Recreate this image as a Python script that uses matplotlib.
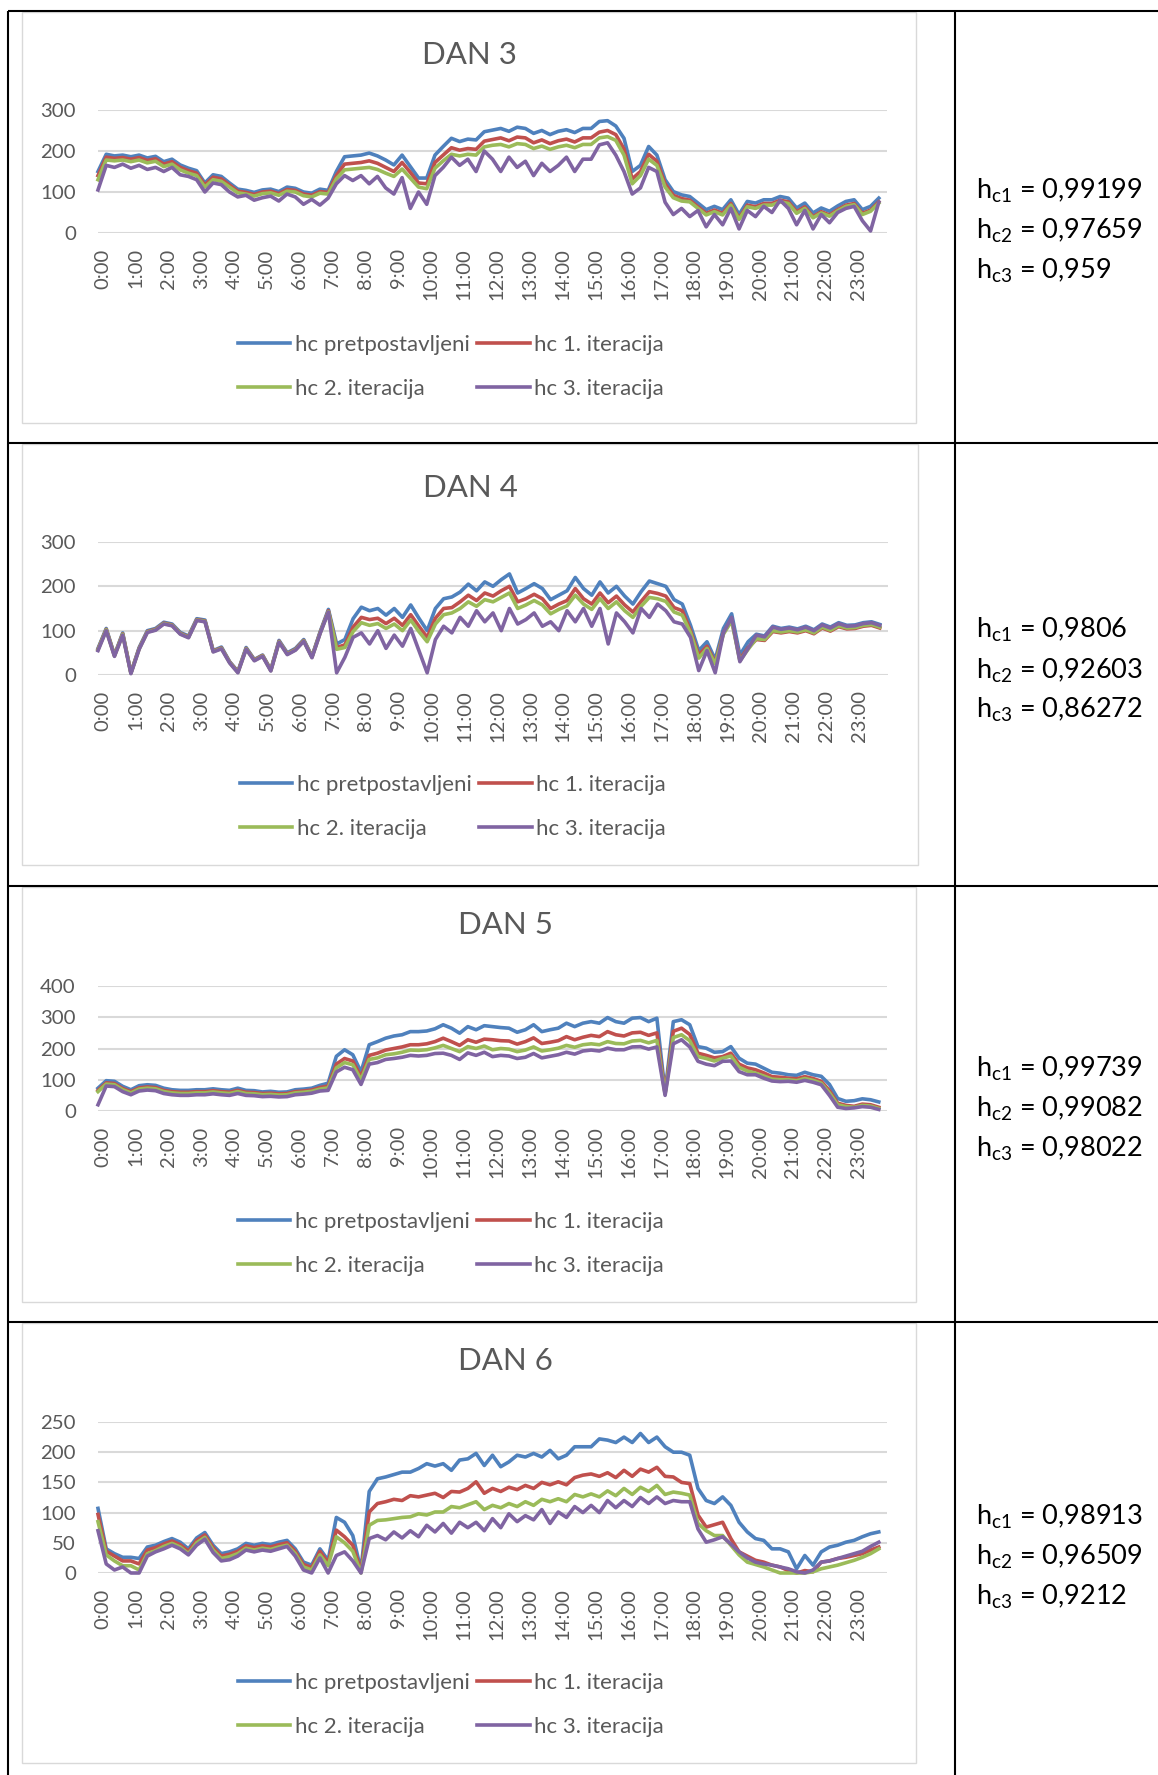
import numpy as np
import matplotlib.pyplot as plt
from matplotlib.lines import Line2D
from matplotlib.patches import Rectangle
from matplotlib.transforms import ScaledTranslation

plt.rcParams['font.family'] = ['Lato', 'DejaVu Sans']
plt.rcParams['mathtext.fontset'] = 'custom'
plt.rcParams['mathtext.rm'] = 'Lato'
plt.rcParams['mathtext.it'] = 'Lato:italic'
plt.rcParams['mathtext.bf'] = 'Lato:bold'

# ---- data: one value every 15 minutes (96 per day) ----
minutes = np.arange(96) * 15
hour_labels = [f'{h}:00' for h in range(24)]
series_names = ['hc pretpostavljeni', 'hc 1. iteracija', 'hc 2. iteracija', 'hc 3. iteracija']

# DAN 3
blue3 = [150, 192, 188, 190, 186, 190, 183, 187, 174, 180, 166, 158, 152, 122, 142, 138,
         122, 107, 104, 99, 105, 107, 101, 112, 109, 100, 97, 107, 104, 150, 186, 188,
         190, 195, 188, 178, 166, 190, 162, 134, 134, 190, 211, 231, 223, 229, 227, 247,
         251, 255, 248, 258, 255, 243, 250, 240, 248, 252, 245, 255, 255, 272, 274, 261,
         231, 150, 165, 211, 190, 130, 101, 93, 89, 73, 57, 65, 57, 81, 45, 77,
         73, 81, 81, 89, 85, 61, 73, 49, 61, 53, 66, 77, 81, 57, 65, 85]
red3 = [140, 185, 182, 184, 180, 184, 177, 181, 168, 174, 160, 152, 146, 117, 136, 132,
        117, 102, 99, 94, 100, 102, 96, 106, 104, 95, 92, 101, 99, 140, 168, 170,
        172, 176, 170, 160, 150, 172, 148, 122, 120, 172, 190, 208, 202, 206, 204, 224,
        228, 232, 225, 234, 232, 220, 227, 218, 225, 229, 222, 232, 232, 246, 250, 240,
        205, 132, 150, 192, 175, 120, 92, 84, 80, 64, 48, 56, 48, 72, 36, 68,
        64, 72, 72, 80, 76, 52, 64, 40, 52, 44, 57, 68, 72, 48, 56, 76]
green3 = [130, 178, 176, 178, 174, 178, 171, 175, 162, 168, 154, 146, 140, 112, 130, 126,
          112, 98, 95, 90, 96, 98, 92, 102, 100, 91, 88, 97, 95, 132, 154, 156,
          158, 160, 155, 146, 138, 156, 134, 112, 108, 158, 176, 192, 188, 192, 190, 210,
          214, 216, 210, 218, 216, 206, 212, 204, 210, 214, 208, 216, 216, 232, 235, 226,
          190, 120, 140, 180, 165, 112, 86, 78, 76, 60, 44, 52, 44, 68, 33, 64,
          60, 68, 68, 76, 72, 48, 60, 37, 49, 41, 54, 65, 69, 45, 53, 73]
purple3 = [105, 165, 160, 168, 158, 165, 155, 160, 150, 160, 142, 138, 130, 100, 122, 118,
           100, 88, 92, 80, 86, 90, 78, 95, 88, 70, 82, 68, 85, 120, 140, 128,
           140, 120, 138, 110, 95, 135, 60, 100, 70, 140, 160, 185, 165, 180, 150, 200,
           180, 150, 185, 160, 175, 140, 170, 150, 165, 185, 150, 180, 180, 215, 220, 190,
           150, 95, 110, 160, 150, 75, 45, 60, 40, 55, 15, 45, 20, 60, 10, 55,
           40, 65, 50, 80, 60, 20, 55, 10, 45, 25, 50, 60, 65, 30, 5, 75]

# DAN 4
blue4 = [60, 105, 45, 95, 5, 62, 100, 105, 119, 115, 96, 88, 127, 124, 55, 63,
         30, 8, 62, 35, 45, 12, 78, 50, 60, 80, 42, 98, 148, 70, 80, 127,
         153, 145, 150, 135, 150, 130, 158, 128, 100, 150, 172, 176, 187, 205, 190, 210,
         200, 215, 228, 185, 195, 206, 195, 170, 180, 190, 220, 195, 180, 210, 185, 200,
         178, 160, 188, 212, 206, 200, 170, 160, 112, 55, 75, 35, 105, 138, 45, 75,
         92, 88, 110, 105, 108, 104, 110, 102, 115, 108, 118, 112, 113, 118, 120, 114]
red4 = [58, 103, 44, 93, 5, 60, 98, 103, 117, 113, 94, 86, 125, 122, 54, 61,
        29, 7, 60, 34, 44, 11, 76, 48, 58, 78, 41, 96, 145, 62, 68, 108,
        130, 125, 128, 116, 128, 112, 136, 110, 85, 128, 150, 152, 165, 180, 168, 185,
        178, 190, 200, 165, 172, 182, 172, 150, 160, 168, 195, 172, 160, 185, 163, 178,
        158, 142, 166, 188, 184, 178, 152, 145, 100, 45, 65, 28, 95, 125, 35, 62,
        80, 78, 98, 95, 98, 95, 100, 93, 106, 99, 109, 104, 105, 110, 112, 106]
green4 = [57, 102, 43, 92, 4, 59, 97, 102, 116, 112, 93, 85, 124, 121, 53, 60,
          28, 6, 59, 33, 43, 10, 75, 47, 57, 77, 40, 95, 143, 58, 62, 98,
          118, 112, 116, 105, 115, 100, 124, 98, 75, 115, 136, 140, 150, 165, 155, 170,
          165, 175, 185, 150, 158, 168, 158, 138, 148, 156, 180, 160, 148, 172, 150, 165,
          145, 130, 155, 175, 172, 166, 142, 135, 95, 38, 60, 25, 92, 122, 32, 58,
          82, 80, 100, 97, 100, 97, 102, 95, 108, 101, 111, 106, 107, 112, 114, 108]
purple4 = [55, 100, 42, 90, 3, 58, 96, 101, 115, 111, 92, 84, 123, 120, 52, 59,
           27, 5, 58, 32, 42, 9, 74, 46, 56, 76, 39, 94, 142, 5, 40, 85,
           95, 70, 100, 60, 90, 65, 105, 55, 5, 80, 110, 95, 130, 110, 145, 120,
           140, 100, 150, 115, 125, 140, 110, 120, 100, 145, 120, 150, 110, 150, 70, 140,
           120, 95, 150, 130, 160, 145, 120, 115, 85, 10, 55, 5, 95, 130, 30, 60,
           90, 86, 108, 103, 106, 102, 108, 100, 113, 106, 116, 110, 111, 116, 118, 112]

# DAN 5
blue5 = [73, 97, 95, 79, 68, 81, 84, 82, 73, 68, 66, 66, 68, 68, 71, 68,
         66, 73, 66, 65, 61, 63, 60, 61, 68, 70, 73, 82, 89, 175, 196, 180,
         125, 212, 222, 233, 240, 244, 254, 254, 256, 263, 276, 265, 249, 270, 260, 273,
         270, 267, 265, 252, 260, 276, 254, 260, 265, 281, 270, 281, 286, 281, 299, 286,
         281, 297, 299, 286, 297, 60, 286, 292, 276, 206, 201, 188, 190, 206, 169, 153,
         150, 137, 124, 121, 116, 114, 124, 116, 111, 85, 40, 31, 33, 39, 36, 29]
red5 = [66, 90, 88, 72, 62, 74, 77, 75, 66, 62, 60, 60, 62, 62, 65, 62,
        60, 66, 60, 59, 56, 57, 55, 56, 62, 64, 67, 75, 80, 150, 168, 160,
        110, 178, 185, 195, 200, 205, 212, 212, 215, 222, 233, 222, 210, 228, 220, 230,
        228, 225, 224, 214, 222, 234, 216, 220, 225, 238, 228, 236, 242, 238, 254, 244,
        240, 250, 252, 242, 250, 57, 255, 265, 245, 185, 178, 170, 174, 185, 150, 138,
        132, 122, 110, 108, 105, 103, 110, 104, 95, 65, 25, 18, 15, 22, 20, 12]
green5 = [62, 86, 84, 68, 58, 70, 73, 71, 62, 58, 56, 56, 58, 58, 61, 58,
          56, 62, 56, 55, 52, 53, 51, 52, 58, 60, 63, 70, 74, 138, 155, 148,
          100, 165, 170, 180, 183, 188, 195, 194, 196, 202, 210, 200, 190, 206, 200, 208,
          196, 200, 198, 190, 195, 205, 192, 196, 201, 210, 204, 212, 215, 212, 222, 216,
          215, 224, 226, 218, 226, 54, 235, 244, 225, 174, 168, 160, 169, 176, 140, 128,
          121, 112, 102, 100, 100, 97, 104, 98, 89, 58, 20, 14, 12, 18, 16, 8]
purple5 = [20, 80, 78, 62, 52, 64, 67, 65, 56, 52, 50, 50, 52, 52, 55, 52,
           50, 56, 50, 49, 46, 47, 45, 46, 52, 54, 57, 64, 66, 125, 140, 132,
           85, 150, 155, 165, 168, 172, 178, 176, 178, 184, 185, 178, 165, 186, 178, 188,
           174, 178, 176, 168, 172, 184, 170, 175, 180, 188, 182, 192, 195, 192, 201, 196,
           196, 205, 206, 198, 205, 50, 215, 228, 205, 159, 150, 145, 159, 160, 126, 116,
           116, 105, 96, 94, 95, 92, 98, 92, 84, 50, 12, 8, 10, 14, 12, 5]

# DAN 6
blue6 = [107, 40, 32, 26, 26, 24, 43, 46, 52, 57, 51, 40, 58, 67, 46, 32,
         35, 40, 49, 46, 49, 47, 51, 54, 40, 18, 13, 40, 21, 92, 84, 62,
         5, 135, 156, 159, 163, 167, 167, 173, 181, 177, 181, 170, 187, 189, 198, 178,
         195, 176, 184, 195, 192, 198, 192, 203, 189, 195, 209, 209, 209, 222, 220, 216,
         225, 216, 231, 216, 225, 209, 200, 200, 195, 140, 120, 115, 126, 112, 84, 68,
         57, 54, 40, 40, 35, 7, 29, 13, 35, 43, 46, 51, 54, 60, 65, 68]
red6 = [97, 36, 28, 20, 20, 15, 38, 42, 48, 53, 47, 36, 54, 63, 42, 28,
        31, 36, 45, 42, 45, 43, 47, 50, 36, 14, 9, 36, 17, 71, 60, 46,
        3, 101, 115, 118, 122, 120, 128, 126, 129, 132, 125, 135, 134, 140, 151, 132,
        140, 135, 142, 138, 145, 140, 150, 146, 151, 146, 158, 162, 164, 160, 166, 158,
        170, 160, 172, 167, 175, 160, 159, 150, 148, 96, 76, 80, 84, 57, 35, 28,
        21, 18, 13, 10, 4, 0, 4, 2, 18, 20, 24, 26, 29, 32, 38, 43]
green6 = [85, 30, 20, 12, 12, 5, 32, 37, 44, 49, 43, 32, 50, 59, 38, 24,
          27, 32, 41, 38, 41, 39, 43, 46, 32, 10, 5, 30, 12, 60, 50, 36,
          0, 79, 87, 88, 90, 92, 93, 98, 96, 101, 101, 110, 108, 113, 118, 105,
          112, 108, 115, 110, 118, 112, 122, 118, 123, 118, 130, 126, 131, 126, 136, 128,
          140, 130, 142, 135, 145, 130, 134, 132, 129, 82, 70, 62, 62, 46, 30, 18,
          14, 10, 5, 0, 0, 0, 0, 2, 7, 10, 13, 17, 21, 26, 32, 40]
purple6 = [70, 15, 5, 10, 0, 0, 28, 35, 40, 46, 40, 30, 46, 56, 34, 20,
           22, 28, 38, 35, 38, 36, 40, 44, 28, 5, 0, 25, 0, 29, 35, 20,
           0, 57, 62, 55, 68, 58, 70, 60, 79, 68, 82, 66, 84, 75, 84, 70,
           90, 75, 98, 85, 95, 88, 105, 82, 101, 92, 110, 100, 112, 100, 120, 108,
           120, 110, 125, 115, 126, 115, 120, 118, 118, 73, 51, 55, 60, 48, 35, 25,
           18, 15, 13, 10, 7, 2, 0, 5, 18, 20, 24, 28, 32, 36, 44, 51]

day_titles = ['DAN 3', 'DAN 4', 'DAN 5', 'DAN 6']
day_series = [[blue3, red3, green3, purple3], [blue4, red4, green4, purple4],
              [blue5, red5, green5, purple5], [blue6, red6, green6, purple6]]
day_yticks = [[0, 100, 200, 300], [0, 100, 200, 300],
              [0, 100, 200, 300, 400], [0, 50, 100, 150, 200, 250]]
hc_values = [['0,99199', '0,97659', '0,959'], ['0,9806', '0,92603', '0,86272'],
             ['0,99739', '0,99082', '0,98022'], ['0,98913', '0,96509', '0,9212']]

# ---- layout (pixels of the 1158x1775 page) ----
W, H = 1158, 1775
colors = ['#4F81BD', '#C0504D', '#9BBB59', '#8064A2']
grey = '#595959'

def fx(x):
    return x / W

def fy(y):
    return 1 - y / H

rows = [
    dict(box=(22, 12, 916, 423), plot=(98, 110, 887, 233), title=(469, 55), leg=(238, 367), txt=[189, 229, 269]),
    dict(box=(22, 444, 918, 865), plot=(98, 542, 888, 675), title=(470, 488), leg=(240, 807), txt=[628, 669, 708]),
    dict(box=(22, 887, 916, 1302), plot=(98, 986, 887, 1111), title=(505, 925), leg=(238, 1244), txt=[1067, 1107, 1147]),
    dict(box=(22, 1323, 916, 1763), plot=(98, 1422, 887, 1573), title=(505, 1361), leg=(238, 1705), txt=[1515, 1555, 1595]),
]

fig = plt.figure(figsize=(W / 100, H / 100), dpi=100)

# table rules
def rule(x0, y0, x1, y1):
    fig.add_artist(Line2D([fx(x0), fx(x1)], [fy(y0), fy(y1)], transform=fig.transFigure,
                          color='black', lw=1.5, solid_capstyle='butt'))

for y in [11, 443, 886, 1322]:
    rule(8, y, W, y)
rule(8, 11, 8, H)
rule(955, 11, 955, H)

label_shift = ScaledTranslation(4.5 / 100, 0, fig.dpi_scale_trans)

for i, r in enumerate(rows):
    bx0, by0, bx1, by1 = r['box']
    fig.add_artist(Rectangle((fx(bx0), fy(by1)), fx(bx1 - bx0), (by1 - by0) / H,
                             transform=fig.transFigure, facecolor='white',
                             edgecolor='#D9D9D9', lw=1.0, zorder=-5))
    px0, py0, px1, py1 = r['plot']
    ax = fig.add_axes([fx(px0), fy(py1), fx(px1 - px0), (py1 - py0) / H])
    ax.set_zorder(2)
    ax.patch.set_alpha(0)
    for vals, c in zip(day_series[i], colors):
        ax.plot(minutes, vals, color=c, lw=2.6, clip_on=False, solid_joinstyle='round')
    yt = day_yticks[i]
    ax.set_ylim(yt[0], yt[-1])
    ax.set_yticks(yt)
    ax.set_xlim(0, 1440)
    ax.set_xticks(np.arange(24) * 60)
    ax.set_xticklabels(hour_labels, rotation=90)
    ax.yaxis.grid(True, color='#D9D9D9', lw=1.5)
    ax.set_axisbelow(True)
    for s in ax.spines.values():
        s.set_visible(False)
    ax.tick_params(axis='y', length=0, pad=16, labelsize=14.7, labelcolor=grey)
    ax.tick_params(axis='x', length=0, pad=11, labelsize=14.5, labelcolor=grey)
    # nudge hour labels a little to the right, after tick_params has set their transform
    for tick in ax.xaxis.get_major_ticks():
        tick.label1.set_transform(tick.label1.get_transform() + label_shift)

    tx, ty = r['title']
    fig.text(fx(tx), fy(ty), day_titles[i], ha='center', va='center', fontsize=22.5, color=grey)

    handles = [Line2D([], [], color=c, lw=2.6) for c in colors]
    order = [0, 2, 1, 3]
    lx, ly = r['leg']
    leg = fig.legend([handles[k] for k in order], [series_names[k] for k in order],
                     loc='center left', bbox_to_anchor=(fx(lx), fy(ly)), ncol=2, frameon=False,
                     fontsize=16, handlelength=2.35, handletextpad=0.2, columnspacing=0.35,
                     labelspacing=1.1, borderpad=0, borderaxespad=0)
    for t in leg.get_texts():
        t.set_color(grey)

    for k, yc in enumerate(r['txt']):
        fig.text(fx(976), fy(yc + 10), r'h$_{\mathrm{c%d}}$ = %s' % (k + 1, hc_values[i][k]),
                 ha='left', va='baseline', fontsize=19.5, color='black')

fig.savefig('out.png', dpi=100)
